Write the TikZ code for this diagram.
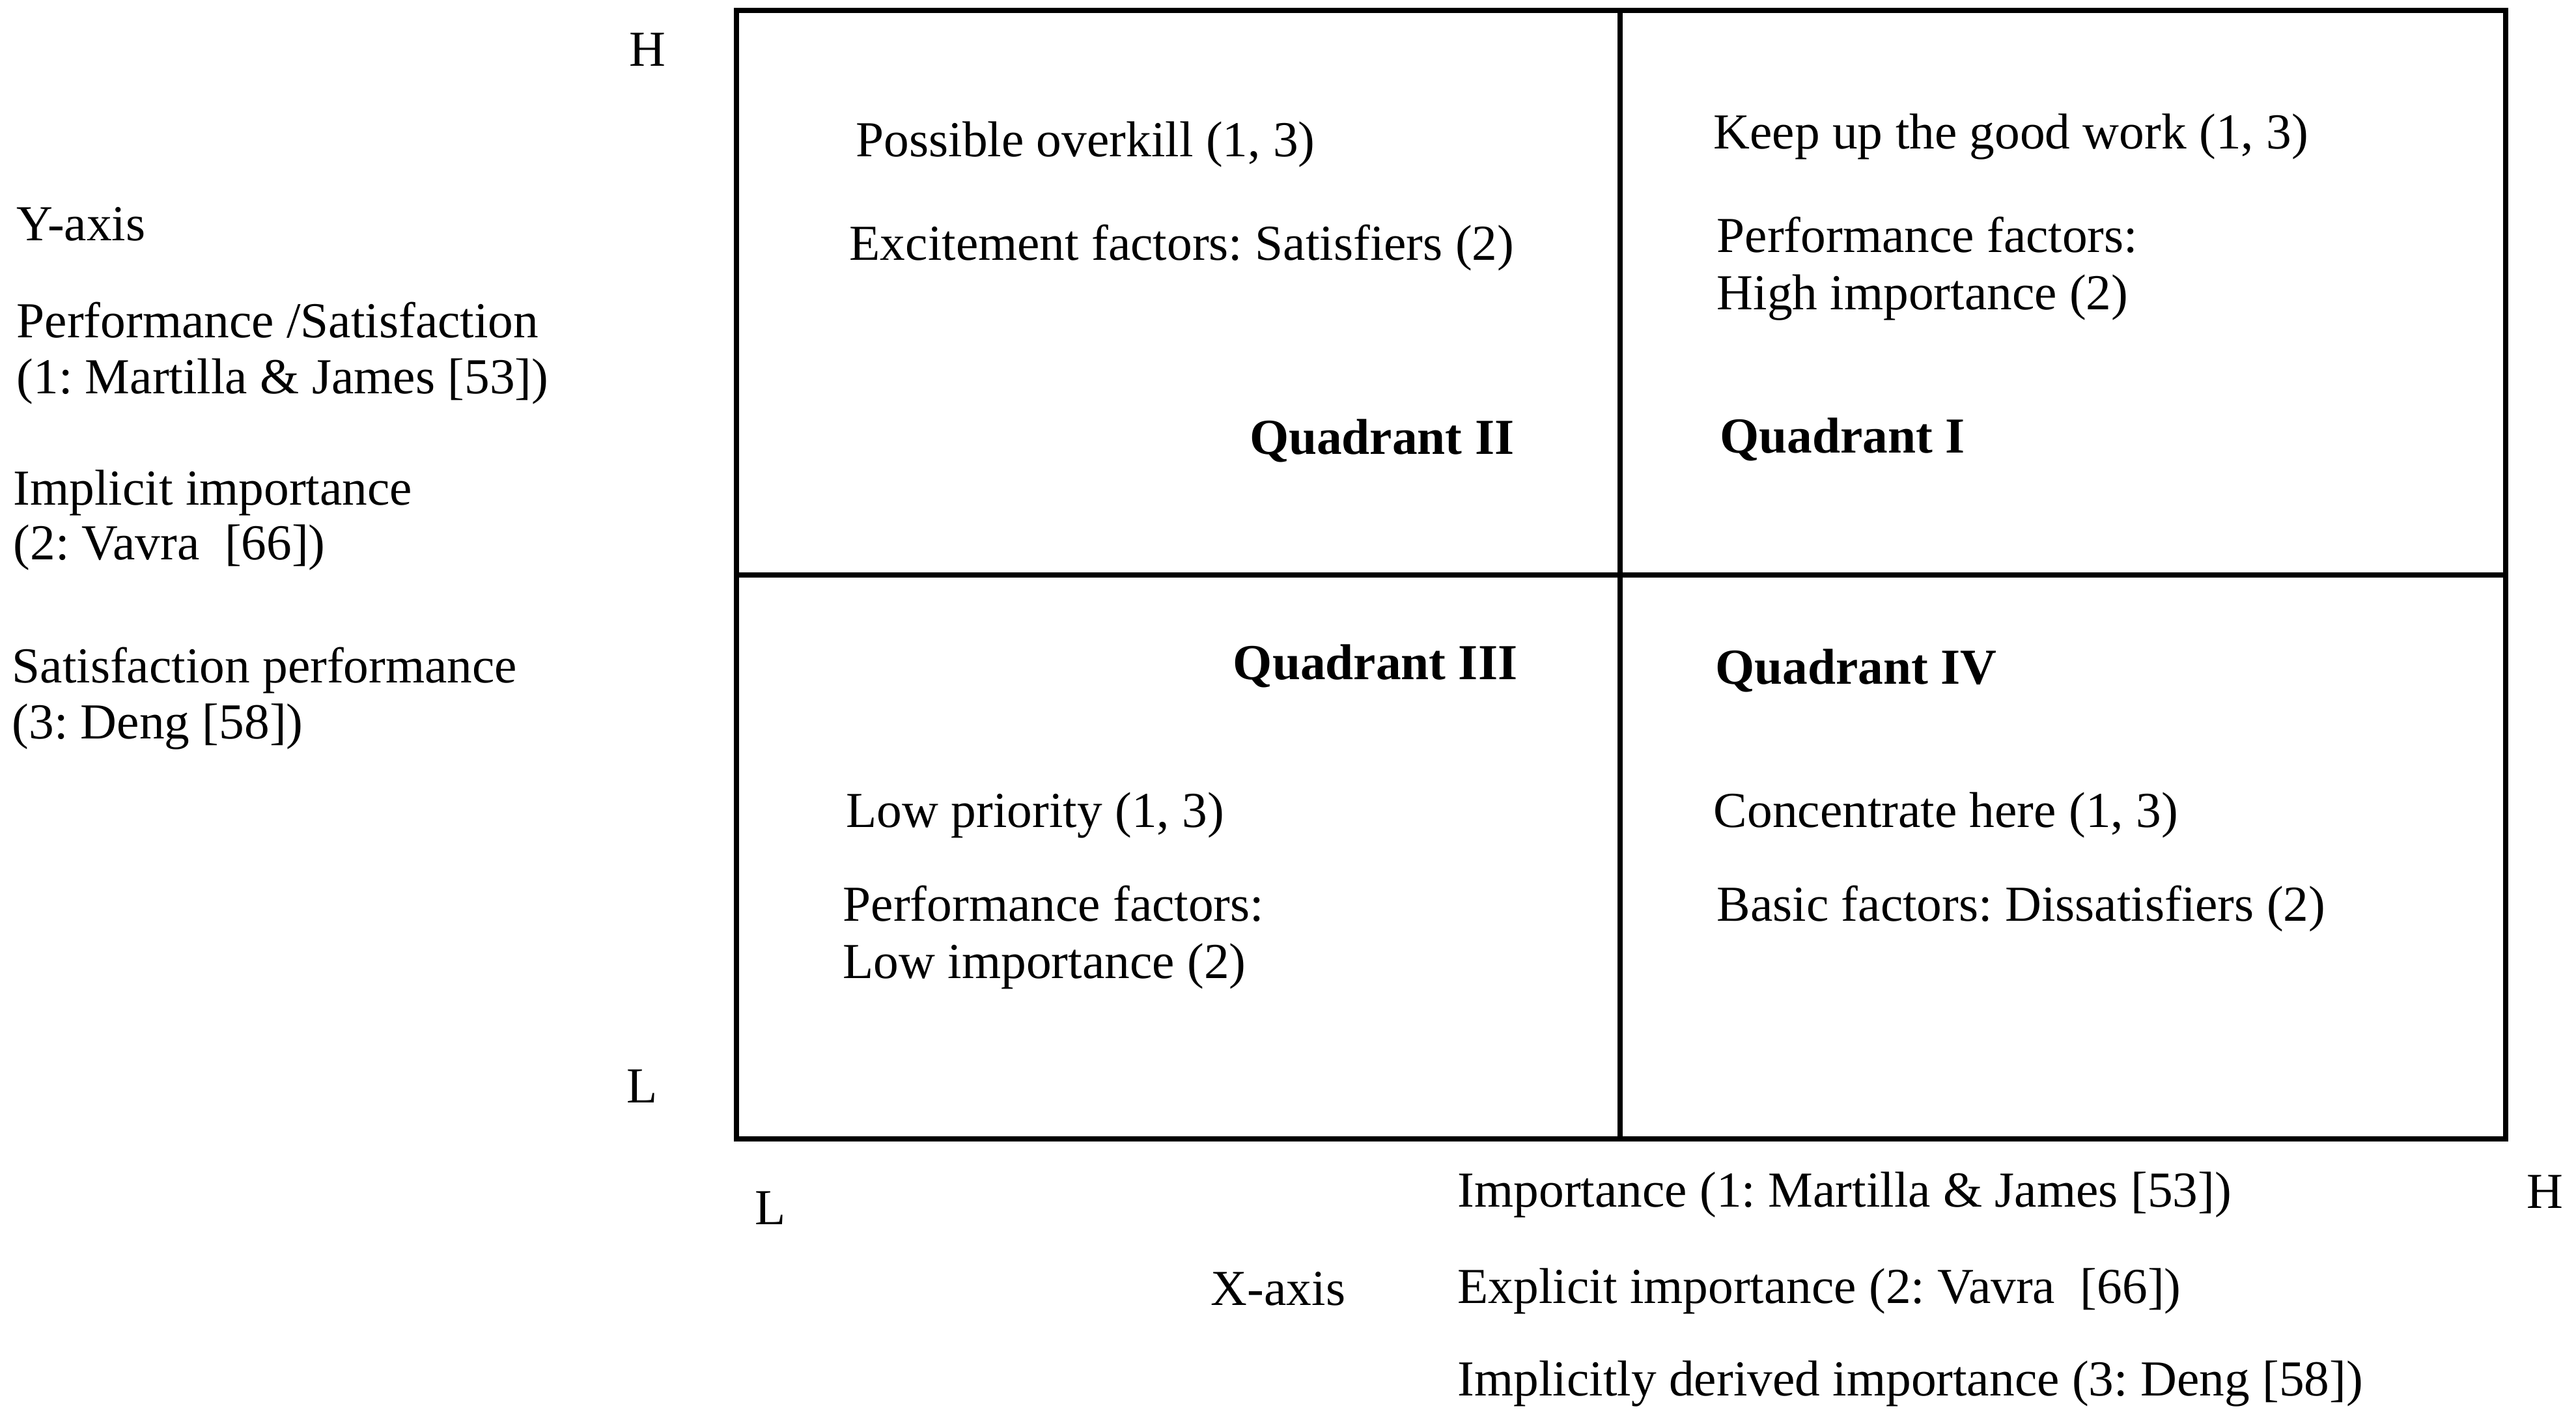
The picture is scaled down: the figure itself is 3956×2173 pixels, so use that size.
\documentclass[tikz,border=0pt]{standalone}
\usepackage{fontspec}
\setmainfont{Liberation Serif}
\frenchspacing
\begin{document}
\begin{tikzpicture}[x=0.01cm,y=-0.01cm,
  txt/.style={inner sep=0pt,yshift=-0.18cm,font=\fontsize{22}{26}\selectfont},
  lt/.style={txt,anchor=mid west},
  rt/.style={txt,anchor=mid east},
  ct/.style={txt,anchor=mid},
  qd/.style={txt,font=\fontsize{22}{26}\selectfont\bfseries},
  frame/.style={line width=2.3pt,black}]
\useasboundingbox (0,0) rectangle (3956,2173);
% grid
\coordinate (tl) at (1131,16);
\coordinate (br) at (3848,1749);
\coordinate (mt) at (2488,16);
\coordinate (mb) at (2488,1749);
\coordinate (ml) at (1131,883);
\coordinate (mr) at (3848,883);
\draw[frame] (tl) rectangle (br);
\draw[frame] (mt) -- (mb);
\draw[frame] (ml) -- (mr);
% Y axis labels
\node[ct] (yh) at (994,75) {H};
\node[ct] (yl) at (986,1667) {L};
\node[lt] (yax) at (25,343) {Y-axis};
\node[lt] (y1a) at (25,492) {Performance /Satisfaction};
\node[lt] (y1b) at (25,578) {(1: Martilla \& James [53])};
\node[lt] (y2a) at (20,749) {Implicit importance};
\node[lt] (y2b) at (20,833) {(2: Vavra\ \ [66])};
\node[lt] (y3a) at (18,1022) {Satisfaction performance};
\node[lt] (y3b) at (18,1108) {(3: Deng [58])};
% Quadrant II
\node[lt] (q2a) at (1314,214) {Possible overkill (1, 3)};
\node[lt] (q2b) at (1304,373) {Excitement factors: Satisfiers (2)};
\node[qd,anchor=mid east] (q2) at (2326,671) {Quadrant II};
% Quadrant I
\node[lt] (q1a) at (2631,202) {Keep up the good work (1, 3)};
\node[lt] (q1b) at (2636,361) {Performance factors:};
\node[lt] (q1c) at (2636,449) {High importance (2)};
\node[qd,anchor=mid west] (q1) at (2641,669) {Quadrant I};
% Quadrant III
\node[qd,anchor=mid east] (q3) at (2331,1017) {Quadrant III};
\node[lt] (q3a) at (1299,1244) {Low priority (1, 3)};
\node[lt] (q3b) at (1294,1388) {Performance factors:};
\node[lt] (q3c) at (1294,1476) {Low importance (2)};
% Quadrant IV
\node[qd,anchor=mid west] (q4) at (2634,1024) {Quadrant IV};
\node[lt] (q4a) at (2631,1244) {Concentrate here (1, 3)};
\node[lt] (q4b) at (2636,1388) {Basic factors: Dissatisfiers (2)};
% X axis labels
\node[ct] (xl) at (1183,1854) {L};
\node[ct] (xh) at (3908,1829) {H};
\node[ct] (xax) at (1963,1978) {X-axis};
\node[lt] (x1) at (2238,1827) {Importance (1: Martilla \& James [53])};
\node[lt] (x2) at (2238,1975) {Explicit importance (2: Vavra\ \ [66])};
\node[lt] (x3) at (2238,2117) {Implicitly derived importance (3: Deng [58])};
\end{tikzpicture}
\end{document}
